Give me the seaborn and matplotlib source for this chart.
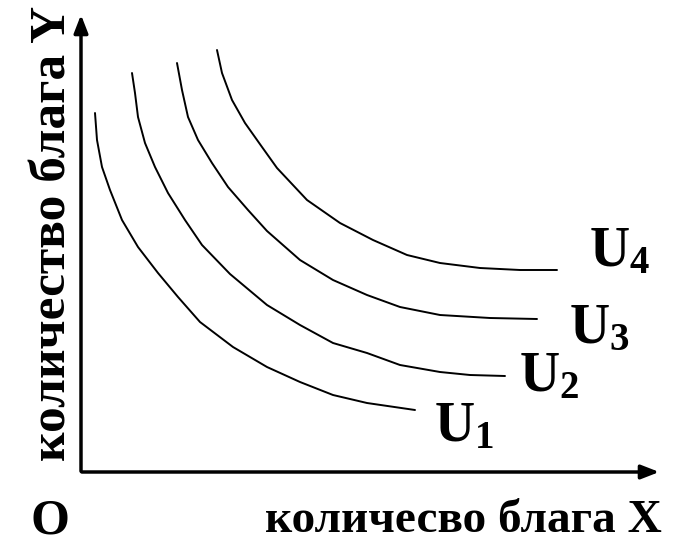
import pandas as pd
import seaborn as sns
import matplotlib.pyplot as plt

sns.set_theme(style="white")
plt.rcParams["font.family"] = ["Liberation Serif", "DejaVu Serif"]
plt.rcParams["font.weight"] = "bold"
plt.rcParams["mathtext.fontset"] = "custom"
plt.rcParams["mathtext.rm"] = "Liberation Serif:bold"
plt.rcParams["mathtext.default"] = "rm"

# indifference curves (pixel-like units, y grows downwards)
u1_x = [95, 97, 102, 110, 122, 138, 158, 178, 200, 233, 267, 300, 333, 367, 415]
u1_y = [113, 140, 167, 190, 220, 247, 273, 297, 322, 347, 367, 382, 395, 403, 410]
u2_x = [132, 135, 138, 145, 155, 168, 185, 202, 230, 267, 300, 333, 367, 400, 440, 470, 505]
u2_y = [73, 93, 117, 143, 167, 193, 220, 245, 274, 305, 325, 343, 353, 365, 372, 375, 376]
u3_x = [177, 182, 188, 198, 212, 228, 248, 267, 300, 333, 367, 400, 440, 490, 537]
u3_y = [63, 90, 117, 140, 163, 187, 210, 231, 260, 280, 295, 307, 315, 318, 319]
u4_x = [217, 222, 232, 245, 262, 277, 307, 340, 373, 407, 440, 480, 520, 557]
u4_y = [50, 73, 100, 123, 147, 168, 200, 223, 240, 255, 263, 268, 270, 270]

curve_names = ["U1", "U2", "U3", "U4"]
curve_labels = [r"U$_1$", r"U$_2$", r"U$_3$", r"U$_4$"]
label_x = [434, 519, 569, 589]
label_y = [441, 391, 343, 266]

dfs = []
for name, xs, ys in zip(curve_names, [u1_x, u2_x, u3_x, u4_x], [u1_y, u2_y, u3_y, u4_y]):
    dfs.append(pd.DataFrame({"x": xs, "y": ys, "curve": name}))
df = pd.concat(dfs)

fig = plt.figure(figsize=(6.79, 5.43), dpi=100)
ax = fig.add_axes([0, 0, 1, 1])

sns.lineplot(data=df, x="x", y="y", hue="curve", palette=["black"] * 4,
             sort=False, estimator=None, legend=False, linewidth=1.4, ax=ax)

ax.set_xlim(0, 679)
ax.set_ylim(543, 0)
ax.axis("off")

# axes with arrows
ax.annotate("", xy=(81, 12), xytext=(81, 474),
            arrowprops=dict(arrowstyle="-|>,head_length=0.9,head_width=0.35", lw=2.5, color="black"))
ax.annotate("", xy=(662, 472), xytext=(79, 472),
            arrowprops=dict(arrowstyle="-|>,head_length=0.9,head_width=0.35", lw=2.5, color="black"))

for lab, lx, ly in zip(curve_labels, label_x, label_y):
    ax.text(lx, ly, lab, fontsize=40, ha="left", va="baseline", color="black")

ax.text(662, 532, "количесво блага X", fontsize=34, ha="right", va="baseline", color="black")
ax.text(54, 233, "количество блага Y", fontsize=37, rotation=90, ha="center", va="center", color="black")
ax.text(50, 533, "O", fontsize=36, ha="center", va="baseline", color="black")

fig.savefig("out.png", dpi=100)
